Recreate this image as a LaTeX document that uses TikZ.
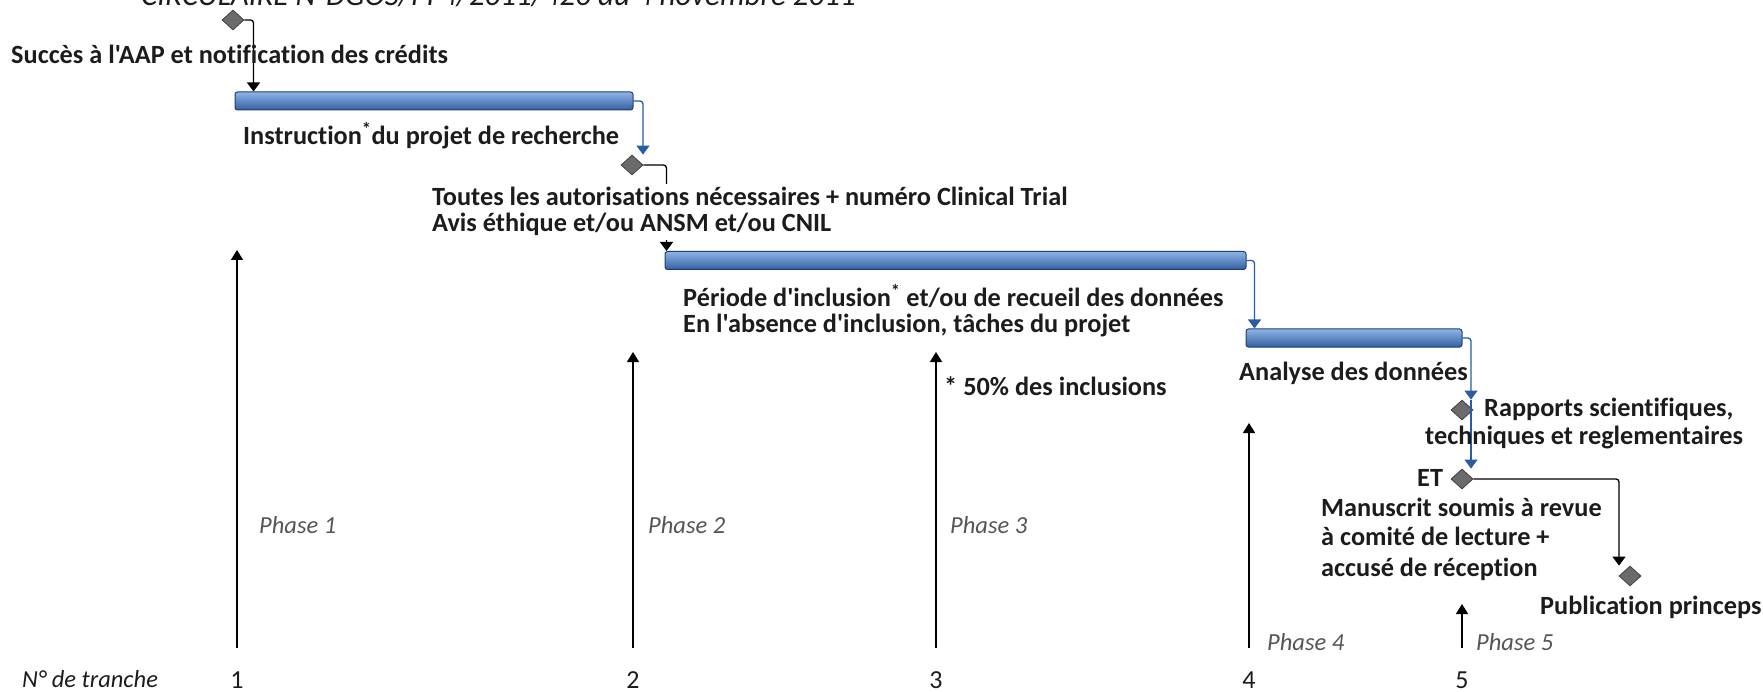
\documentclass[tikz,border=0pt]{standalone}
\usepackage{fontspec}
\setmainfont{Carlito}[Ligatures={TeXOff,CommonOff}]
\usepackage[HTML]{xcolor}
\usetikzlibrary{positioning, arrows.meta, shapes.geometric}

\definecolor{barlight}{HTML}{8DB4E8}
\definecolor{bardark}{HTML}{33609F}
\definecolor{barline}{HTML}{1E3F70}
\definecolor{linkblue}{HTML}{2A5BA5}
\definecolor{jalongrey}{HTML}{6B6B6B}
\definecolor{txtgrey}{HTML}{555555}
\definecolor{txtdark}{HTML}{1C1C1C}

\tikzset{
  lbl/.style={font=\fontsize{26.3}{27}\selectfont\bfseries, text=txtdark, inner sep=0pt, anchor=base west},
  lblbg/.style={lbl, fill=white, inner ysep=4pt},
  phase/.style={font=\fontsize{24.5}{27}\selectfont\itshape, text=txtgrey, inner sep=0pt, anchor=base west},
  num/.style={font=\fontsize{26}{27}\selectfont, text=txtdark, inner sep=0pt, anchor=base},
  taskbar/.style={draw=barline, line width=1pt, rounded corners=2.5pt, top color=barlight, bottom color=bardark, minimum height=18pt, inner sep=0pt},
  jalon/.style={diamond, draw=black!75, line width=0.8pt, fill=jalongrey, minimum width=22pt, minimum height=20pt, inner sep=0pt},
  bluelink/.style={linkblue, line width=1.3pt, rounded corners=3pt, -{Triangle[width=13pt,length=9pt]}},
  blacklink/.style={black, line width=1.3pt, rounded corners=3pt, -{Triangle[width=13pt,length=9pt]}},
  tranche/.style={black, line width=1.5pt, -{Triangle[width=12pt,length=10pt]}}
}

\begin{document}
\begin{tikzpicture}[x=1pt, y=-1pt]
\path[use as bounding box, clip] (0,0) rectangle (1763,692);

% --- Circulaire (cut at the top) ---
\node[phase, text=txtdark, font=\fontsize{31}{33}\selectfont\itshape] (circ) at (141,6) {CIRCULAIRE N°DGOS/PF4/2011/420 du 4 novembre 2011};

% --- Milestones ---
\node[jalon] (m1) at (233,20) {};
\node[jalon] (m2) at (632,165) {};
\node[jalon] (m3) at (1462,410) {};
\node[jalon] (m4) at (1462,479) {};
\node[jalon] (m5) at (1630,576) {};

% --- Task bars ---
\node[taskbar, minimum width=398pt] (b1) at (434,101) {};
\node[taskbar, minimum width=581pt] (b2) at (955.5,260.5) {};
\node[taskbar, minimum width=216pt] (b3) at (1354,338) {};

% --- Links ---
\draw[blacklink] (m1.east) -| ([xshift=19pt]b1.north west);
\draw[bluelink] (b1.east) -| ([xshift=11pt]m2.north);
\draw[blacklink] (m2.east) -| ([xshift=2pt]b2.north west);
\draw[bluelink] (b2.east) -| ([xshift=9pt]b3.north west);
\draw[bluelink] (b3.east) -| ([xshift=9pt]m3.north);
\draw[bluelink] ([xshift=9pt]m3.north) -- ([xshift=9pt]m4.north);
\draw[blacklink] (m4.east) -| ([xshift=-11pt]m5.north);

% --- Labels ---
\node[lbl] (l1) at (11,64) {Succès à l'AAP et notification des crédits};
\node[lbl] (l2) at (243,145) {Instruction\textsuperscript{*}du projet de recherche};
\node[lblbg] (l3a) at (432,206) {Toutes les autorisations nécessaires + numéro Clinical Trial};
\node[lblbg] (l3b) at (432,232) {Avis éthique et/ou ANSM et/ou CNIL};
\node[lbl] (l4a) at (683,307) {Période d'inclusion\textsuperscript{*} et/ou de recueil des données};
\node[lbl] (l4b) at (683,333) {En l'absence d'inclusion, tâches du projet};
\node[lbl] (l5) at (1239,380) {Analyse des données};
\node[lbl] (l6) at (944,395) {* 50\% des inclusions};
\node[lbl] (l7a) at (1484,416) {Rapports scientifiques,};
\node[lbl] (l7b) at (1425,444) {techniques et reglementaires};
\node[lbl] (l8) at (1417,486) {ET};
\node[lbl] (l9a) at (1321,516) {Manuscrit soumis à revue};
\node[lbl] (l9b) at (1321,545) {à comité de lecture +};
\node[lbl] (l9c) at (1321,576) {accusé de réception};
\node[lbl] (l10) at (1540,614) {Publication princeps};

% --- Tranches ---
\foreach \x/\top/\i in {237/250/1, 633/352/2, 936/352/3, 1249/423/4, 1462/604/5} {
  \node[num] (n\i) at (\x,688) {\i};
  \coordinate (s\i) at (\x,648);
  \coordinate (e\i) at (\x,\top);
  \draw[tranche] (s\i) -- (e\i);
}
\node[phase, text=txtdark] (nt) at (22,687) {N° de tranche};
\node[phase] (p1) at (259,533) {Phase 1};
\node[phase] (p2) at (648,533) {Phase 2};
\node[phase] (p3) at (950,533) {Phase 3};
\node[phase] (p4) at (1267,650) {Phase 4};
\node[phase] (p5) at (1476,650) {Phase 5};
\end{tikzpicture}
\end{document}
